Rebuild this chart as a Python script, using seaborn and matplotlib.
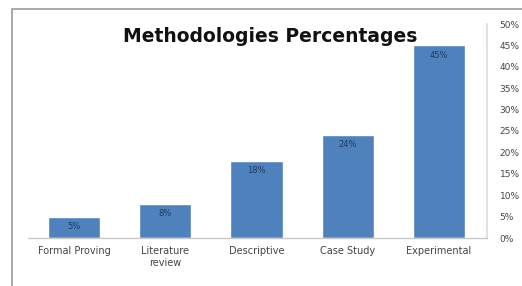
import matplotlib
matplotlib.use("Agg")
import matplotlib.pyplot as plt
import seaborn as sns
import pandas as pd
from matplotlib.patches import Rectangle

sns.set_style("white")
plt.rcParams['font.family'] = ['DejaVu Sans']

methods = ['Formal Proving', 'Literature\nreview', 'Descriptive', 'Case Study', 'Experimental']
percentages = [5, 8, 18, 24, 45]
yticks = [0, 5, 10, 15, 20, 25, 30, 35, 40, 45, 50]

df = pd.DataFrame({'method': methods, 'pct': percentages})

fig = plt.figure(figsize=(5.22, 2.86), dpi=100)
W, H = 522, 286
ax = fig.add_axes([28 / W, (H - 238) / H, (487 - 28) / W, (238 - 24) / H])

sns.barplot(data=df, x='method', y='pct', color='#4F81BD', saturation=1,
            width=0.57, ax=ax)

ax.set_ylim(0, 50)
ax.set_xlim(-0.504, 4.526)
ax.yaxis.tick_right()
ax.set_yticks(yticks)
ax.set_yticklabels(['{}%'.format(t) for t in yticks], fontsize=6.5, color='#444444')
ax.tick_params(axis='y', length=0, pad=9)
ax.tick_params(axis='x', length=0, pad=6, labelsize=7, labelcolor='#444444')
ax.set_xlabel('')
ax.set_ylabel('')

for side in ['top', 'left']:
    ax.spines[side].set_visible(False)
ax.spines['bottom'].set_color('#c8c8c8')
ax.spines['bottom'].set_linewidth(1)
ax.spines['right'].set_color('#dddddd')
ax.spines['right'].set_linewidth(1.2)

for i, v in enumerate(percentages):
    ax.text(i, v - 1.2, '{}%'.format(v), ha='center', va='top',
            fontsize=6, color='#1f3a5f')

fig.text(270 / W, 1 - 37 / H, 'Methodologies Percentages', ha='center', va='center',
         fontsize=13.5, fontweight='bold', color='#111111', zorder=10)

frame = Rectangle((12 / W, -0.05), 1.2, 1 - 9 / H + 0.05, transform=fig.transFigure,
                  fill=False, edgecolor='#999999', linewidth=1.2, zorder=0)
fig.patches.append(frame)

fig.savefig('out.png', dpi=100)
